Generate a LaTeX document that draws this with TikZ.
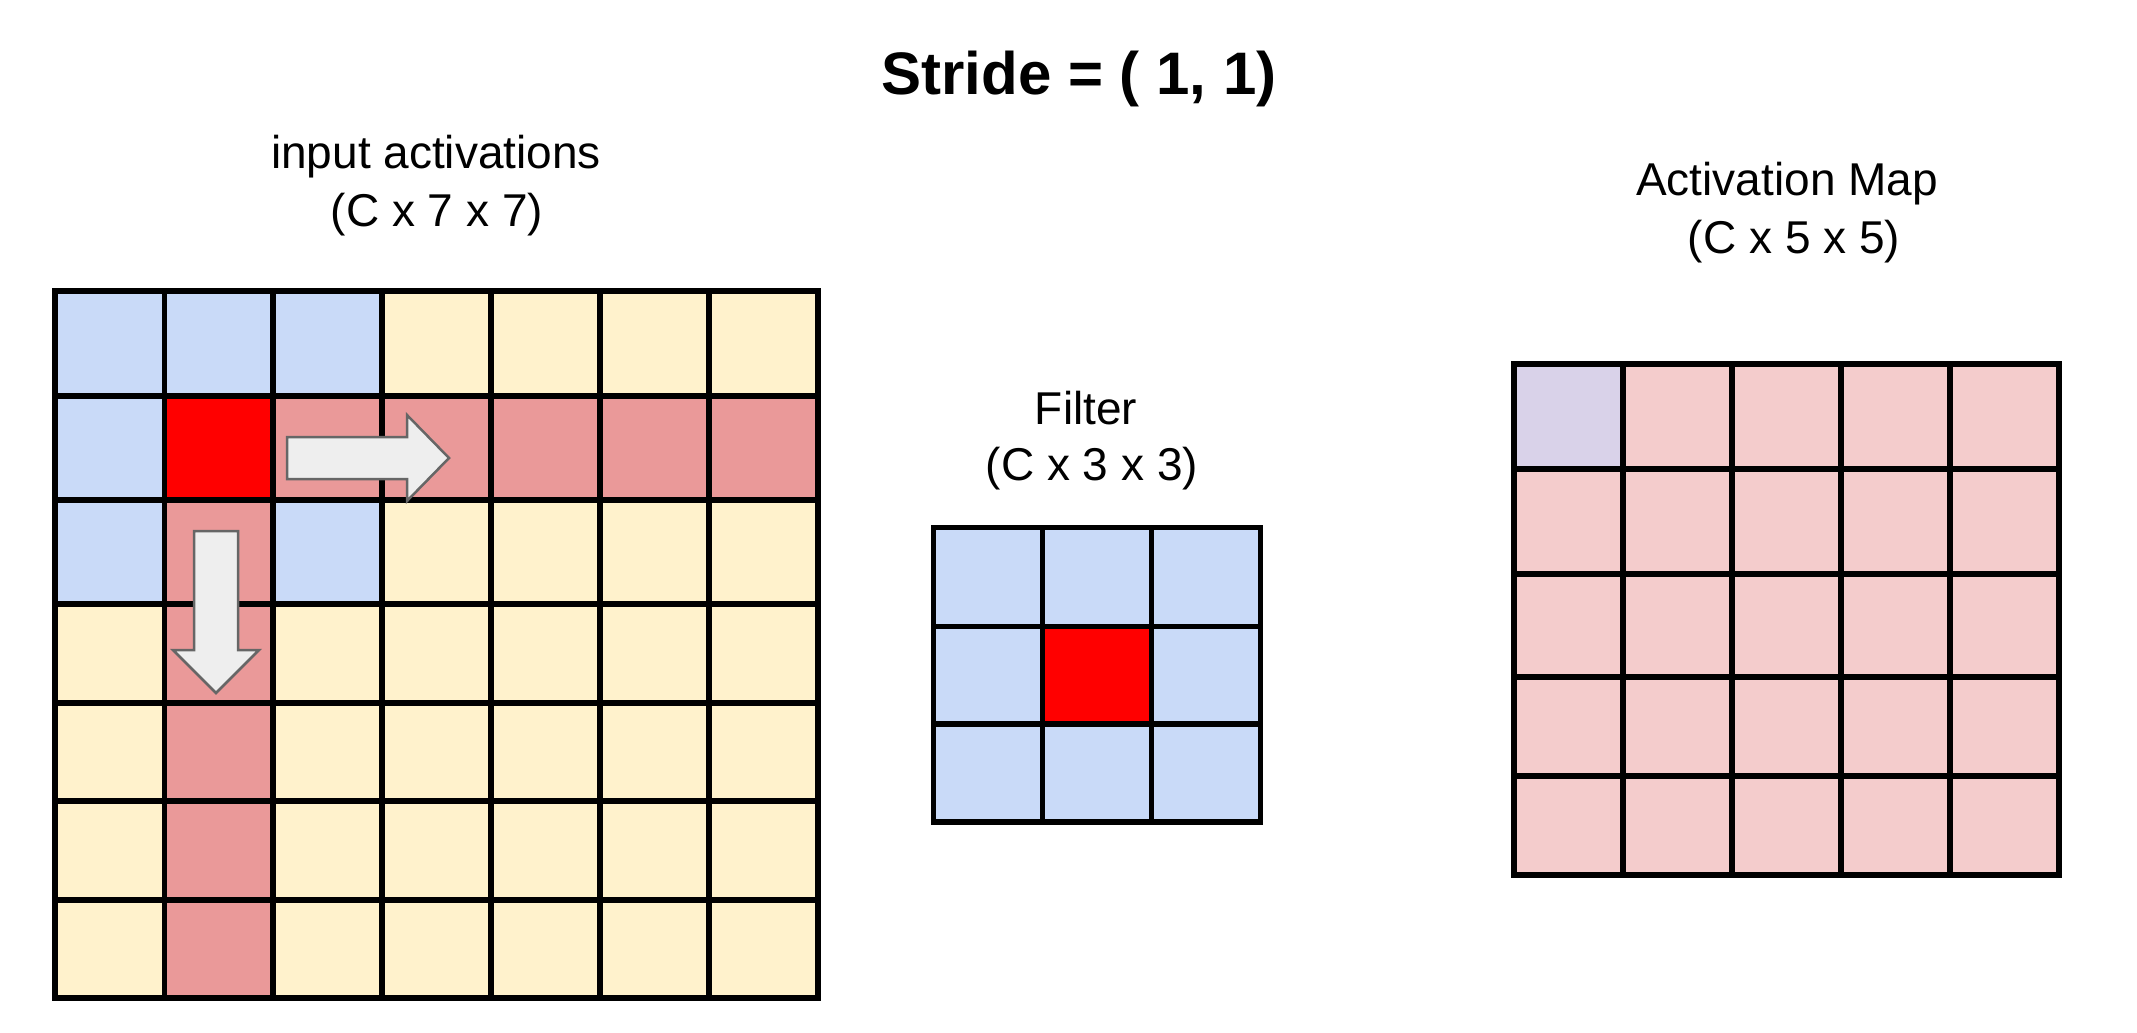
\documentclass[tikz,border=0pt]{standalone}
\usepackage{fontspec}
\setmainfont{Liberation Sans}
\definecolor{cblue}{HTML}{C9DAF8}
\definecolor{cyel}{HTML}{FFF2CC}
\definecolor{cpink}{HTML}{EA9999}
\definecolor{cred}{HTML}{FF0000}
\definecolor{clpink}{HTML}{F4CCCC}
\definecolor{clav}{HTML}{D9D2E9}
\definecolor{carrow}{HTML}{EEEEEE}
\definecolor{carrowline}{HTML}{666666}
\begin{document}
\begin{tikzpicture}[x=1pt,y=-1pt,
  gridline/.style={line width=5.5pt,black,line cap=rect},
  lbl/.style={anchor=base,inner sep=0pt,font=\fontsize{46}{52}\selectfont},
  ttl/.style={anchor=base,inner sep=0pt,font=\fontsize{60}{66}\selectfont\bfseries},
  slidearrow/.style={fill=carrow,draw=carrowline,line width=2.5pt,line join=miter}]
\useasboundingbox[fill=white] (0,0) rectangle (2137,1033);

% title and labels
\node[ttl] (title) at (1079,95) {Stride = ( 1, 1)};
\node[lbl] (inlbl1) at (436,168) {input activations};
\node[lbl] (inlbl2) at (437,226) {(C x 7 x 7)};
\node[lbl] (fllbl1) at (1086,424) {Filter};
\node[lbl] (fllbl2) at (1092,480) {(C x 3 x 3)};
\node[lbl] (amlbl1) at (1787,195) {Activation Map};
\node[lbl] (amlbl2) at (1794,253) {(C x 5 x 5)};

% input activations grid
\fill[cyel] (55,291) rectangle (818,998);
\fill[cblue] (55,291) rectangle (382,604);
\fill[cpink] (164.5,396) rectangle (818,500);
\fill[cpink] (164.5,396) rectangle (273,998);
\fill[cred] (164.5,396) rectangle (273,500);
\foreach \x in {55,164.5,273,382,491,600,709,818}
  \draw[gridline] (\x,291) -- (\x,998);
\foreach \y in {291,396,500,604,703,801,900,998}
  \draw[gridline] (55,\y) -- (818,\y);

% slide arrows
\draw[slidearrow] (287,437) -- (407,437) -- (407,415) -- (449,458) -- (407,501) -- (407,479) -- (287,479) -- cycle;
\draw[slidearrow] (194,531) -- (238,531) -- (238,650) -- (259,650) -- (216,693) -- (173,650) -- (194,650) -- cycle;

% filter grid
\fill[cblue] (933.5,527.5) rectangle (1260.5,822);
\fill[cred] (1042.5,626.5) rectangle (1151.5,724);
\foreach \x in {933.5,1042.5,1151.5,1260.5}
  \draw[gridline] (\x,527.5) -- (\x,822);
\foreach \y in {527.5,626.5,724,822}
  \draw[gridline] (933.5,\y) -- (1260.5,\y);

% activation map grid
\fill[clpink] (1514,364) rectangle (2059,875);
\fill[clav] (1514,364) rectangle (1623,469);
\foreach \x in {1514,1623,1732,1841,1950,2059}
  \draw[gridline] (\x,364) -- (\x,875);
\foreach \y in {364,469,574,677,776,875}
  \draw[gridline] (1514,\y) -- (2059,\y);
\end{tikzpicture}
\end{document}
